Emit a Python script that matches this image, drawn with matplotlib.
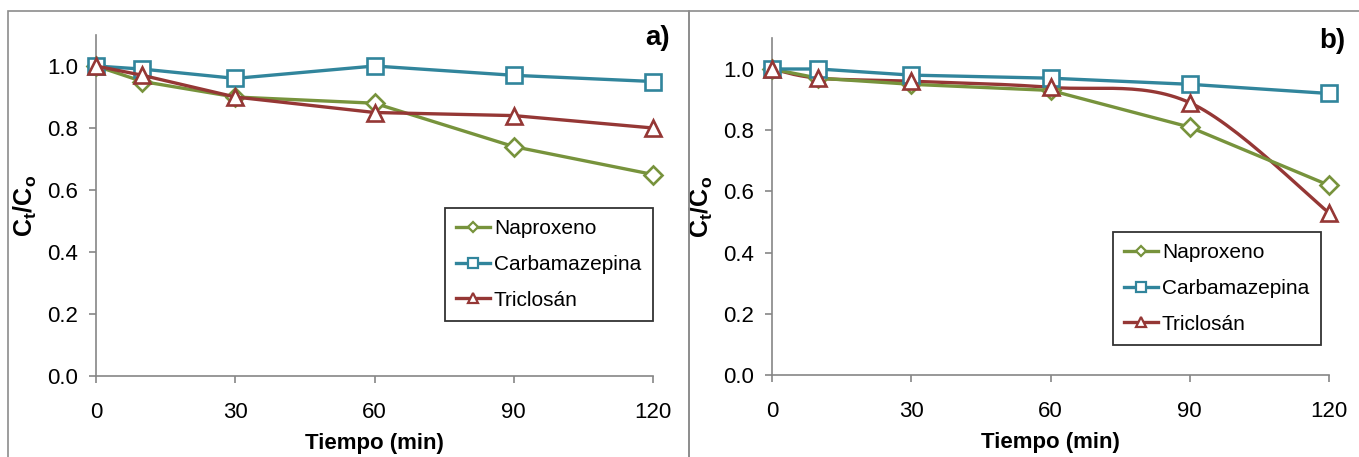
import numpy as np
import matplotlib
matplotlib.use("Agg")
import matplotlib.pyplot as plt
from matplotlib.patches import Rectangle

# data
tiempo = [0, 10, 30, 60, 90, 120]
xticks = [0, 30, 60, 90, 120]
yticks = [0.0, 0.2, 0.4, 0.6, 0.8, 1.0]

nap_a = [1.00, 0.95, 0.90, 0.88, 0.74, 0.65]
carb_a = [1.00, 0.99, 0.96, 1.00, 0.97, 0.95]
tric_a = [1.00, 0.97, 0.90, 0.85, 0.84, 0.80]

nap_b = [1.00, 0.97, 0.95, 0.93, 0.81, 0.62]
carb_b = [1.00, 1.00, 0.98, 0.97, 0.95, 0.92]
tric_b = [1.00, 0.97, 0.96, 0.94, 0.89, 0.53]

names = ["Naproxeno", "Carbamazepina", "Triclosán"]
colors = ["#77933C", "#31859C", "#953735"]
markers = ["D", "s", "^"]
msizes = [9, 11, 11]

plt.rcParams["font.family"] = ["Liberation Sans", "DejaVu Sans"]
plt.rcParams["mathtext.fontset"] = "custom"
plt.rcParams["mathtext.rm"] = "Liberation Sans"
plt.rcParams["mathtext.bf"] = "Liberation Sans:bold"

grey = "#868686"


def smooth(ax, x, y, n=30):
    # Excel-style smoothed line: bezier with control points from neighbours
    pts = ax.transData.transform(np.column_stack([x, y]))
    out = [pts[0]]
    for i in range(len(pts) - 1):
        p0 = pts[i - 1] if i > 0 else pts[i]
        p1 = pts[i]
        p2 = pts[i + 1]
        p3 = pts[i + 2] if i + 2 < len(pts) else pts[i + 1]
        c1 = p1 + (p2 - p0) / 6
        c2 = p2 - (p3 - p1) / 6
        t = np.linspace(0, 1, n)[1:, None]
        seg = ((1 - t) ** 3) * p1 + 3 * ((1 - t) ** 2) * t * c1 + 3 * (1 - t) * t ** 2 * c2 + t ** 3 * p2
        out.extend(seg)
    out = ax.transData.inverted().transform(np.array(out))
    return out[:, 0], out[:, 1]


fig = plt.figure(figsize=(13.59, 4.57), dpi=100)

# panel frames
fig.patches.append(Rectangle((8 / 1359, -0.1), (689 - 8) / 1359, 1.1 - 11 / 457,
                             transform=fig.transFigure, fill=False, ec="#8c8c8c", lw=1.2))
fig.patches.append(Rectangle((689 / 1359, -0.1), 0.6, 1.1 - 11 / 457,
                             transform=fig.transFigure, fill=False, ec="#8c8c8c", lw=1.2))

ax_a = fig.add_axes([96 / 1359, 1 - 376 / 457, 557 / 1359, 341 / 457])
ax_b = fig.add_axes([772 / 1359, 1 - 375 / 457, 557 / 1359, 336.6 / 457])

panels = [
    (ax_a, [nap_a, carb_a, tric_a], "a)", (445, 208), False),
    (ax_b, [nap_b, carb_b, tric_b], "b)", (1113, 232), True),
]

for ax, series, tag, legpos, smooth_tric in panels:
    ax.set_xlim(0, 120)
    ax.set_ylim(0, 1.1)
    ax.patch.set_alpha(0)
    for i, vals in enumerate(series):
        if smooth_tric and i == 2:
            sx, sy = smooth(ax, tiempo, vals)
            ax.plot(sx, sy, color=colors[i], lw=2.4, clip_on=False)
            ax.plot(tiempo, vals, ls="none", marker=markers[i], ms=msizes[i],
                    mfc="white", mec=colors[i], mew=1.9, color=colors[i],
                    label=names[i], clip_on=False, zorder=3)
        else:
            ax.plot(tiempo, vals, color=colors[i], lw=2.4, marker=markers[i],
                    ms=msizes[i], mfc="white", mec=colors[i], mew=1.9,
                    label=names[i], clip_on=False, zorder=3)

    for s in ["top", "right"]:
        ax.spines[s].set_visible(False)
    for s in ["left", "bottom"]:
        ax.spines[s].set_color(grey)
        ax.spines[s].set_linewidth(1.2)
    ax.set_xticks(xticks)
    ax.set_yticks(yticks)
    ax.set_yticklabels([f"{v:.1f}" for v in yticks])
    ax.tick_params(direction="out", length=5, width=1.2, color=grey,
                   labelsize=16)
    ax.tick_params(axis="x", pad=14)
    ax.tick_params(axis="y", pad=8)
    ax.set_xlabel("Tiempo (min)", fontsize=16, fontweight="bold", labelpad=7)
    ax.set_ylabel(r"$\mathbf{C_t/C_o}$", fontsize=18, labelpad=6)

    # handles with line through marker
    handles = [plt.Line2D([], [], color=colors[i], lw=2.4, marker=markers[i],
                          ms=msizes[i] * 0.6, mfc="white", mec=colors[i], mew=1.6)
               for i in range(3)]
    leg = ax.legend(handles, names, loc="upper left",
                    bbox_to_anchor=(legpos[0] / 1359, 1 - legpos[1] / 457),
                    bbox_transform=fig.transFigure, borderaxespad=0,
                    fontsize=15, frameon=True, fancybox=False, handlelength=1.6,
                    handletextpad=0.2, labelspacing=0.8, borderpad=0.55)
    leg.get_frame().set_edgecolor("black")
    leg.get_frame().set_linewidth(1.3)

    ax.text(1.03, 1.03, tag, transform=ax.transAxes, ha="right", va="top",
            fontsize=20, fontweight="bold")

fig.savefig("out.png", dpi=100)
